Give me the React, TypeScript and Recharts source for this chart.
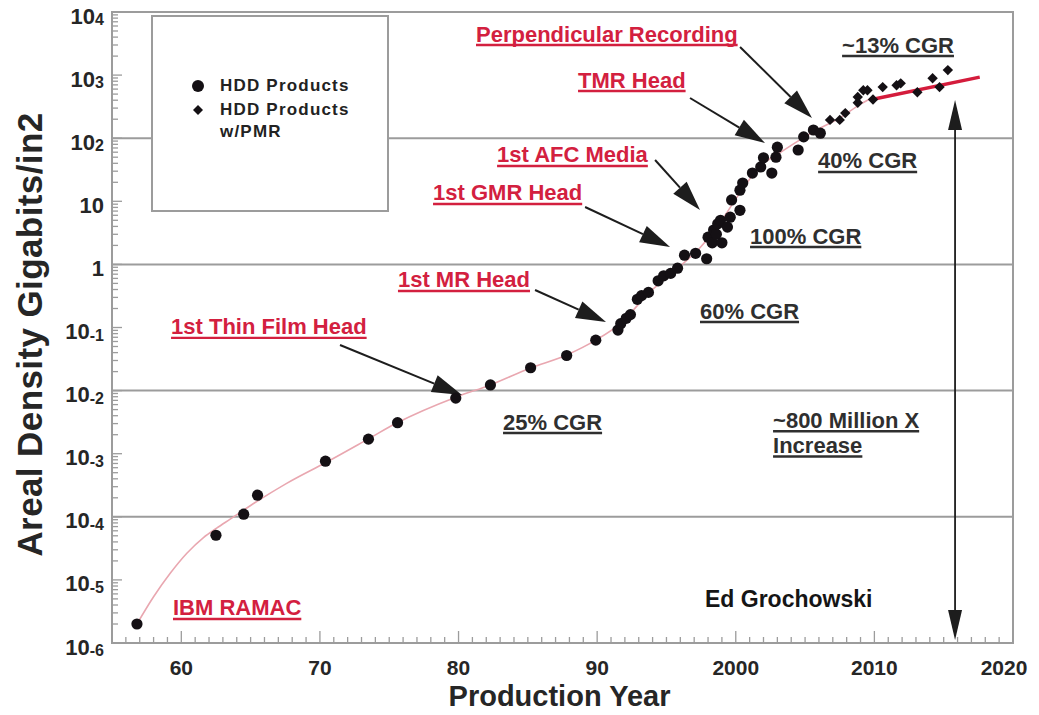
import React, { useLayoutEffect, useRef, useState } from 'react';
import {
  ComposedChart,
  Scatter,
  Line,
  XAxis,
  YAxis,
  ReferenceLine,
  ReferenceDot,
  ReferenceArea,
  Legend,
} from 'recharts';

const FONT = '"Liberation Sans", Arial, Helvetica, sans-serif';
const RED = '#d3203f';
const INK = '#1d1d1d';
const TEXT_DARK = '#262626';
const GRAY = '#9c9c9c';

// ---------- data ----------
const hddProducts = [
  { year: 1956.8, value: 2.0e-6 },
  { year: 1962.5, value: 5.1e-5 },
  { year: 1964.5, value: 1.1e-4 },
  { year: 1965.5, value: 2.2e-4 },
  { year: 1970.4, value: 7.6e-4 },
  { year: 1973.5, value: 1.7e-3 },
  { year: 1975.6, value: 3.1e-3 },
  { year: 1979.8, value: 7.6e-3 },
  { year: 1982.3, value: 1.23e-2 },
  { year: 1985.2, value: 2.3e-2 },
  { year: 1987.8, value: 3.6e-2 },
  { year: 1989.9, value: 6.3e-2 },
  { year: 1991.5, value: 0.091 },
  { year: 1991.7, value: 0.115 },
  { year: 1992.1, value: 0.14 },
  { year: 1992.4, value: 0.16 },
  { year: 1992.9, value: 0.28 },
  { year: 1993.2, value: 0.32 },
  { year: 1993.7, value: 0.36 },
  { year: 1994.4, value: 0.55 },
  { year: 1994.8, value: 0.66 },
  { year: 1995.3, value: 0.72 },
  { year: 1995.8, value: 0.87 },
  { year: 1996.3, value: 1.4 },
  { year: 1997.1, value: 1.5 },
  { year: 1997.9, value: 1.23 },
  { year: 1998.0, value: 2.7 },
  { year: 1998.3, value: 2.2 },
  { year: 1998.4, value: 3.5 },
  { year: 1998.6, value: 3.0 },
  { year: 1998.7, value: 4.4 },
  { year: 1998.9, value: 5.0 },
  { year: 1999.0, value: 2.2 },
  { year: 1999.4, value: 3.9 },
  { year: 1999.6, value: 5.6 },
  { year: 1999.7, value: 10.5 },
  { year: 2000.3, value: 7.2 },
  { year: 2000.3, value: 15 },
  { year: 2000.5, value: 19.5 },
  { year: 2001.2, value: 28 },
  { year: 2001.8, value: 35 },
  { year: 2002.0, value: 49 },
  { year: 2002.6, value: 28 },
  { year: 2002.9, value: 50 },
  { year: 2003.0, value: 72 },
  { year: 2004.5, value: 65 },
  { year: 2004.9, value: 105 },
  { year: 2005.6, value: 135 },
  { year: 2006.1, value: 120 },
];

const hddPmrProducts = [
  { year: 2006.8, value: 195 },
  { year: 2007.5, value: 195 },
  { year: 2007.9, value: 250 },
  { year: 2008.8, value: 365 },
  { year: 2008.8, value: 450 },
  { year: 2009.2, value: 575 },
  { year: 2009.5, value: 575 },
  { year: 2009.9, value: 410 },
  { year: 2010.6, value: 645 },
  { year: 2011.6, value: 690 },
  { year: 2011.9, value: 740 },
  { year: 2013.1, value: 535 },
  { year: 2014.2, value: 890 },
  { year: 2014.7, value: 645 },
  { year: 2015.3, value: 1200 },
];

const trendCurve = [
  { year: 1956.8, value: 2.0e-6 },
  { year: 1958.0, value: 5.4e-6 },
  { year: 1959.2, value: 1.27e-5 },
  { year: 1960.4, value: 2.64e-5 },
  { year: 1961.6, value: 4.68e-5 },
  { year: 1962.55, value: 6.6e-5 },
  { year: 1963.5, value: 9.1e-5 },
  { year: 1965.0, value: 1.51e-4 },
  { year: 1967.6, value: 3.39e-4 },
  { year: 1970.5, value: 7.4e-4 },
  { year: 1973.5, value: 1.72e-3 },
  { year: 1975.5, value: 3.03e-3 },
  { year: 1979.9, value: 8.0e-3 },
  { year: 1982.3, value: 1.23e-2 },
  { year: 1985.2, value: 2.28e-2 },
  { year: 1987.8, value: 3.66e-2 },
  { year: 1989.9, value: 6.3e-2 },
  { year: 1991.65, value: 0.114 },
  { year: 1993.8, value: 0.366 },
  { year: 1996.0, value: 0.944 },
  { year: 1997.4, value: 1.82 },
  { year: 1998.9, value: 4.7 },
  { year: 2000.3, value: 13.6 },
  { year: 2001.75, value: 36 },
  { year: 2003.2, value: 59 },
  { year: 2004.6, value: 93 },
  { year: 2006.1, value: 145 },
  { year: 2007.5, value: 209 },
  { year: 2009.0, value: 347 },
  { year: 2009.9, value: 447 },
];

const recentTrend = [
  { year: 2009.9, value: 415 },
  { year: 2017.6, value: 930 },
];

// ---------- ticks ----------
const yMajorTicks = [1e-6, 1e-5, 1e-4, 1e-3, 1e-2, 1e-1, 1, 10, 1e2, 1e3, 1e4];
const yTickLabels: [string, string][] = [
  ['10', '-6'],
  ['10', '-5'],
  ['10', '-4'],
  ['10', '-3'],
  ['10', '-2'],
  ['10', '-1'],
  ['1', ''],
  ['10', ''],
  ['10', '2'],
  ['10', '3'],
  ['10', '4'],
];
const yMinorMultipliers = [2, 3, 4, 5, 6, 7, 8, 9];
const yGridValues = [1e-4, 1e-2, 1, 1e2];

const xFirstYear = 1955;
const xLastYear = 2020;
const xTickLabels: Record<number, string> = {
  1960: '60',
  1970: '70',
  1980: '80',
  1990: '90',
  2000: '2000',
  2010: '2010',
  2020: '2020',
};

const yAllTicks: number[] = [];
yMajorTicks.forEach((t, i) => {
  yAllTicks.push(t);
  if (i < yMajorTicks.length - 1) yMinorMultipliers.forEach((m) => yAllTicks.push(t * m));
});
const xAllTicks: number[] = [];
for (let yr = xFirstYear; yr <= xLastYear; yr++) xAllTicks.push(yr);

// ---------- annotations ----------
type Tone = 'red' | 'dark' | 'plain';
const calloutLabels: { text: string; year: number; exp: number; tone: Tone }[] = [
  { text: 'IBM RAMAC', year: 1959.4, exp: -5.445, tone: 'red' },
  { text: '1st Thin Film Head', year: 1959.26, exp: -0.99, tone: 'red' },
  { text: '1st MR Head', year: 1975.63, exp: -0.247, tone: 'red' },
  { text: '1st GMR Head', year: 1978.16, exp: 1.132, tone: 'red' },
  { text: '1st AFC Media', year: 1982.78, exp: 1.734, tone: 'red' },
  { text: 'TMR Head', year: 1988.62, exp: 2.922, tone: 'red' },
  { text: 'Perpendicular Recording', year: 1981.26, exp: 3.651, tone: 'red' },
  { text: '~13% CGR', year: 2007.67, exp: 3.477, tone: 'dark' },
  { text: '40% CGR', year: 2005.94, exp: 1.639, tone: 'dark' },
  { text: '100% CGR', year: 2001.03, exp: 0.45, tone: 'dark' },
  { text: '60% CGR', year: 1997.42, exp: -0.739, tone: 'dark' },
  { text: '25% CGR', year: 1983.21, exp: -2.498, tone: 'dark' },
  { text: '~800 Million X', year: 2002.69, exp: -2.47, tone: 'dark' },
  { text: 'Increase', year: 2002.69, exp: -2.87, tone: 'dark' },
  { text: 'Ed Grochowski', year: 1997.78, exp: -5.303, tone: 'plain' },
];

const calloutArrows = [
  { from: [1971.45, -1.277], to: [1980.25, -2.07] },
  { from: [1985.52, -0.406], to: [1990.64, -0.913] },
  { from: [1989.13, 0.91], to: [1995.26, 0.276] },
  { from: [1994.18, 1.655], to: [1997.42, 0.862] },
  { from: [1996.7, 2.637], to: [2002.11, 1.924] },
  { from: [2000.31, 3.445], to: [2005.5, 2.32] },
];
const spanArrow = { year: 2015.82, fromExp: -5.952, toExp: 2.605 };

// ---------- rendering helpers ----------
const YTick = (props: any) => {
  const { x, y, payload } = props;
  const v = Number(payload?.value);
  const lg = Math.log10(v);
  const k = Math.round(lg);
  const major = Math.abs(lg - k) < 1e-6;
  const idx = yMajorTicks.findIndex((t) => Math.round(Math.log10(t)) === k);
  const lab = major && idx >= 0 ? yTickLabels[idx] : null;
  return (
    <g>
      <line x1={x} x2={x + (major ? 10 : 6)} y1={y} y2={y} stroke={GRAY} strokeWidth={1.3} />
      {lab && (
        <text
          x={x - 8}
          y={y + 4}
          textAnchor="end"
          dominantBaseline="central"
          fontFamily={FONT}
          fontWeight={700}
          fontSize={22}
          fill={TEXT_DARK}
        >
          {lab[0]}
          {lab[1] && (
            <tspan fontSize={16} dy={3}>
              {lab[1]}
            </tspan>
          )}
        </text>
      )}
    </g>
  );
};

const XTick = (props: any) => {
  const { x, y, payload } = props;
  const yr = Math.round(Number(payload?.value));
  const major = yr % 10 === 0;
  const lab = xTickLabels[yr];
  return (
    <g>
      <line x1={x} x2={x} y1={y} y2={y - (major ? 12 : 6)} stroke={GRAY} strokeWidth={1.3} />
      {lab && (
        <text
          x={x + (yr === xLastYear ? -9 : 0)}
          y={y + 24}
          textAnchor="middle"
          dominantBaseline="central"
          fontFamily={FONT}
          fontWeight={700}
          fontSize={21}
          fill={TEXT_DARK}
        >
          {lab}
        </text>
      )}
    </g>
  );
};

const UnderlinedText = ({ x, y, text, tone }: { x: number; y: number; text: string; tone: Tone }) => {
  const ref = useRef<SVGTextElement>(null);
  const [w, setW] = useState(0);
  useLayoutEffect(() => {
    if (ref.current) setW(ref.current.getComputedTextLength());
  }, [text, x, y]);
  const color = tone === 'red' ? RED : tone === 'dark' ? '#2f2f2f' : '#151515';
  const size = tone === 'plain' ? 23 : 22;
  return (
    <g>
      <text
        ref={ref}
        x={x}
        y={y}
        dominantBaseline="central"
        fontFamily={FONT}
        fontWeight={700}
        fontSize={size}
        fill={color}
      >
        {text}
      </text>
      {tone !== 'plain' && w > 0 && (
        <line x1={x} x2={x + w} y1={y + 11} y2={y + 11} stroke={color} strokeWidth={2.4} />
      )}
    </g>
  );
};

const arrowHead = (tx: number, ty: number, fx: number, fy: number, hl: number, hw: number) => {
  const dx = tx - fx;
  const dy = ty - fy;
  const len = Math.hypot(dx, dy) || 1;
  const ux = dx / len;
  const uy = dy / len;
  const bx = tx - ux * hl;
  const by = ty - uy * hl;
  return {
    bx,
    by,
    points: `${tx},${ty} ${bx - uy * hw},${by + ux * hw} ${bx + uy * hw},${by - ux * hw}`,
  };
};

const ArrowShape = (props: any) => {
  const { x1, y1, x2, y2 } = props;
  const h = arrowHead(x2, y2, x1, y1, 30, 9);
  return (
    <g>
      <line x1={x1} y1={y1} x2={h.bx} y2={h.by} stroke={INK} strokeWidth={2} />
      <polygon points={h.points} fill={INK} />
    </g>
  );
};

const DoubleArrowShape = (props: any) => {
  const { x1, y1, x2, y2 } = props;
  const a = arrowHead(x1, y1, x2, y2, 30, 7);
  const b = arrowHead(x2, y2, x1, y1, 30, 7);
  return (
    <g>
      <line x1={a.bx} y1={a.by} x2={b.bx} y2={b.by} stroke={INK} strokeWidth={1.8} />
      <polygon points={a.points} fill={INK} />
      <polygon points={b.points} fill={INK} />
    </g>
  );
};

const CircleShape = (props: any) => {
  const { cx, cy } = props;
  if (cx == null || cy == null) return <g />;
  return <circle cx={cx} cy={cy} r={5.6} fill="#141014" />;
};

const DiamondShape = (props: any) => {
  const { cx, cy } = props;
  if (cx == null || cy == null) return <g />;
  const s = 5.2;
  return <polygon points={`${cx},${cy - s} ${cx + s},${cy} ${cx},${cy + s} ${cx - s},${cy}`} fill="#141014" />;
};

const LegendContent = (props: any) => {
  const payload = (props.payload || []).filter((p: any) => p.type !== 'none');
  return (
    <div
      style={{
        width: 238,
        height: 197,
        boxSizing: 'border-box',
        border: `2px solid ${GRAY}`,
        background: '#fff',
        position: 'relative',
        fontFamily: FONT,
        fontWeight: 700,
        fontSize: 17,
        letterSpacing: 1.2,
        color: '#222',
      }}
    >
      {payload.map((p: any, i: number) => {
        const top = 58 + i * 24;
        return (
          <div key={i} style={{ position: 'absolute', left: 67, top, width: 150, lineHeight: '22px' }}>
            <svg
              width={16}
              height={16}
              style={{ position: 'absolute', left: -30, top: 3, overflow: 'visible' }}
            >
              {i === 0 ? (
                <circle cx={8} cy={8} r={6} fill="#141014" />
              ) : (
                <polygon points="8,3 13,8 8,13 3,8" fill="#141014" />
              )}
            </svg>
            {p.value}
          </div>
        );
      })}
    </div>
  );
};

const YTitle = (props: any) => {
  const vb = props.viewBox || { x: 111, y: 12, width: 1, height: 631 };
  const cx = vb.x + vb.width - 83;
  const cy = vb.y + vb.height / 2 + 7;
  return (
    <text
      x={cx}
      y={cy}
      transform={`rotate(-90 ${cx} ${cy})`}
      textAnchor="middle"
      dominantBaseline="central"
      fontFamily={FONT}
      fontWeight={700}
      fontSize={35}
      letterSpacing={0.4}
      fill={TEXT_DARK}
    >
      Areal Density Gigabits/in2
    </text>
  );
};

const XTitle = (props: any) => {
  const vb = props.viewBox || { x: 112, y: 643, width: 901, height: 1 };
  const cx = vb.x + vb.width / 2 - 3;
  const cy = vb.y + 53;
  return (
    <text
      x={cx}
      y={cy}
      textAnchor="middle"
      dominantBaseline="central"
      fontFamily={FONT}
      fontWeight={700}
      fontSize={29}
      fill={TEXT_DARK}
    >
      Production Year
    </text>
  );
};

export default function App() {
  return (
    <div style={{ width: 1039, height: 715, background: '#fff', fontFamily: FONT, margin: '-8px 0 0 -8px' }}>
      <ComposedChart width={1039} height={715} margin={{ top: 12, right: 26, bottom: 71, left: 111 }}>
        <XAxis
          dataKey="year"
          type="number"
          domain={[xFirstYear, xLastYear]}
          allowDataOverflow
          ticks={xAllTicks}
          interval={0}
          tickSize={0}
          tickMargin={0}
          tickLine={false}
          tick={XTick}
          height={1}
          axisLine={{ stroke: GRAY, strokeWidth: 2 }}
          label={{ content: XTitle }}
        />
        <YAxis
          dataKey="value"
          type="number"
          scale="log"
          domain={[1e-6, 1e4]}
          allowDataOverflow
          ticks={yAllTicks}
          interval={0}
          tickSize={0}
          tickMargin={0}
          tickLine={false}
          tick={YTick}
          width={1}
          axisLine={{ stroke: GRAY, strokeWidth: 2 }}
          label={{ content: YTitle }}
        />
        <ReferenceArea
          x1={xFirstYear}
          x2={xLastYear}
          y1={1e-6}
          y2={1e4}
          fill="none"
          stroke={GRAY}
          strokeWidth={2}
          ifOverflow="visible"
        />
        {yGridValues.map((g) => (
          <ReferenceLine key={`g${g}`} y={g} stroke={GRAY} strokeWidth={2} ifOverflow="visible" />
        ))}
        <Line
          data={trendCurve}
          dataKey="value"
          type="monotone"
          stroke="#e9a7b0"
          strokeWidth={1.6}
          dot={false}
          activeDot={false}
          legendType="none"
          isAnimationActive={false}
        />
        <Line
          data={recentTrend}
          dataKey="value"
          type="linear"
          stroke="#d41c3c"
          strokeWidth={3.5}
          dot={false}
          activeDot={false}
          legendType="none"
          isAnimationActive={false}
        />
        <Scatter
          name="HDD Products"
          data={hddProducts}
          shape={CircleShape}
          fill="#141014"
          isAnimationActive={false}
        />
        <Scatter
          name="HDD Products w/PMR"
          data={hddPmrProducts}
          shape={DiamondShape}
          fill="#141014"
          isAnimationActive={false}
        />
        {calloutArrows.map((a, i) => (
          <ReferenceLine
            key={`a${i}`}
            segment={[
              { x: a.from[0], y: Math.pow(10, a.from[1]) },
              { x: a.to[0], y: Math.pow(10, a.to[1]) },
            ]}
            ifOverflow="visible"
            shape={ArrowShape}
          />
        ))}
        <ReferenceLine
          segment={[
            { x: spanArrow.year, y: Math.pow(10, spanArrow.toExp) },
            { x: spanArrow.year, y: Math.pow(10, spanArrow.fromExp) },
          ]}
          ifOverflow="visible"
          shape={DoubleArrowShape}
        />
        {calloutLabels.map((l, i) => (
          <ReferenceDot
            key={`l${i}`}
            x={l.year}
            y={Math.pow(10, l.exp)}
            r={0}
            ifOverflow="visible"
            shape={(p: any) => <UnderlinedText x={p.cx} y={p.cy} text={l.text} tone={l.tone} />}
          />
        ))}
        <Legend
          layout="vertical"
          align="center"
          verticalAlign="middle"
          content={LegendContent}
          wrapperStyle={{ left: 151, top: 15, width: 238, height: 197 }}
        />
      </ComposedChart>
    </div>
  );
}
